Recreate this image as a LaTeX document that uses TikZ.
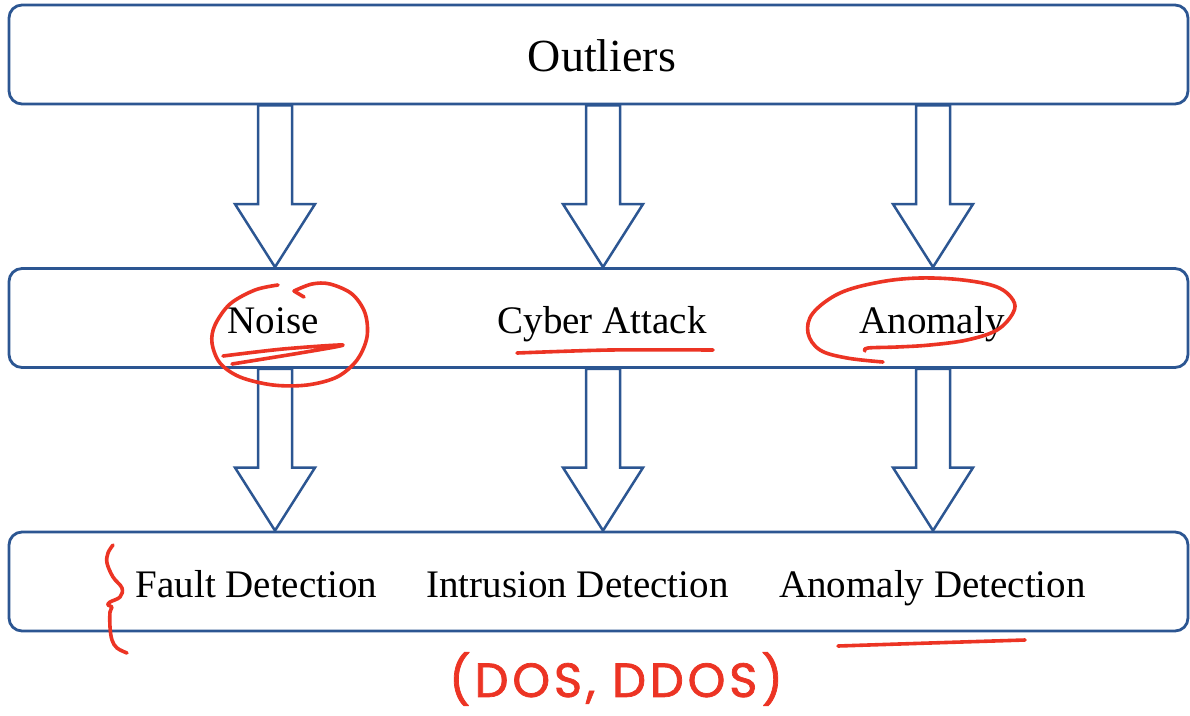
\documentclass[tikz,border=0pt]{standalone}
\usepackage{fontspec}
\setmainfont{Liberation Serif}
\newfontfamily\handfont{Poppins}[FakeBold=1.5, LetterSpace=8]
\usetikzlibrary{calc}
\definecolor{frameblue}{RGB}{44,86,146}
\definecolor{inkred}{RGB}{236,52,36}
\tikzset{
  layerbox/.style={draw=frameblue, line width=2.8pt, rounded corners=13pt, fill=white,
    minimum width=1179pt, minimum height=99pt, inner sep=0pt},
  label/.style={anchor=base, inner sep=0pt, font=\fontsize{39}{39}\selectfont},
  toplabel/.style={anchor=base, inner sep=0pt, font=\fontsize{46}{46}\selectfont},
  arrowline/.style={draw=frameblue, line width=2.5pt, fill=white, line join=miter},
  ink/.style={draw=inkred, line width=3.6pt, line cap=round, line join=round},
}
% hollow block arrow from the lower edge of one layer to the upper edge of the next
\newcommand\blockarrow[2]{%
  \path[arrowline] let \p1=(#1), \p2=(#2) in
    (\x1-17pt,\y1) -- (\x1+17pt,\y1) -- (\x1+17pt,\y2+63pt) -- (\x1+40pt,\y2+63pt)
    -- (\x2,\y2) -- (\x1-40pt,\y2+63pt) -- (\x1-17pt,\y2+63pt) -- cycle;}
\begin{document}
\begin{tikzpicture}[x=1pt,y=-1pt]
\useasboundingbox (0,0) rectangle (1190,715);

% three layers
\node[layerbox] (outl) at (598.5,54.5) {};
\node[layerbox] (kind) at (598.5,318) {};
\node[layerbox] (task) at (598.5,581.5) {};

% column positions
\coordinate (c1) at (275,0);
\coordinate (c2) at (603,0);
\coordinate (c3) at (933,0);

% labels
\node[toplabel] (toptext) at (602,71) {Outliers};
\node[label] (noise) at (273,333) {Noise};
\node[label] (cyber) at (602,333) {Cyber Attack};
\node[label] (anom) at (932,333) {Anomaly};
\node[label] (fault) at (256.5,597) {Fault Detection};
\node[label] (intr) at (577.5,597) {Intrusion Detection};
\node[label] (anomdet) at (932.5,597) {Anomaly Detection};

% arrows between layers
\foreach \c in {c1,c2,c3} {
  \blockarrow{outl.south -| \c}{kind.north -| \c}
  \blockarrow{kind.south -| \c}{task.north -| \c}
}

% red pen marks
\draw[ink] (304,297) -- (294,291);
\draw[ink] plot[smooth, tension=0.55] coordinates {
  (294,291) (312,284) (330,284) (352,294) (365,313) (367,337) (357,360)
  (337,377) (307,385) (273,385) (240,377) (220,363) (212,343) (215,325) (230,304)
  (255,290) (278,285)};
\draw[ink] plot[smooth, tension=0.5] coordinates {
  (223,356) (283,349) (343,345) (300,353) (232,364)};
\draw[ink] plot[smooth, tension=0.5] coordinates {(517,353) (610,350) (713,350)};
\draw[ink] plot[smooth, tension=0.6] coordinates {
  (865,351) (868,348) (897,347) (930,345) (967,340) (997,330) (1013,313) (1013,300)
  (997,287) (963,280) (920,278) (880,282) (840,293) (813,313) (808,333) (820,350)
  (847,358) (883,362)};
\draw[ink] plot[smooth, tension=0.6] coordinates {
  (113,545) (108,553) (107,563) (113,577) (122,588) (120,597) (110,602) (108,605)
  (112,607) (110,612) (110,627) (112,640) (117,648) (127,653)};
\draw[ink] plot[smooth, tension=0.5] coordinates {(838,646) (930,643) (1025,640)};
\node[text=inkred, inner sep=0pt, font=\handfont\fontsize{48}{48}\selectfont] (dos) at (616,679) {(DOS, DDOS)};
\end{tikzpicture}
\end{document}
